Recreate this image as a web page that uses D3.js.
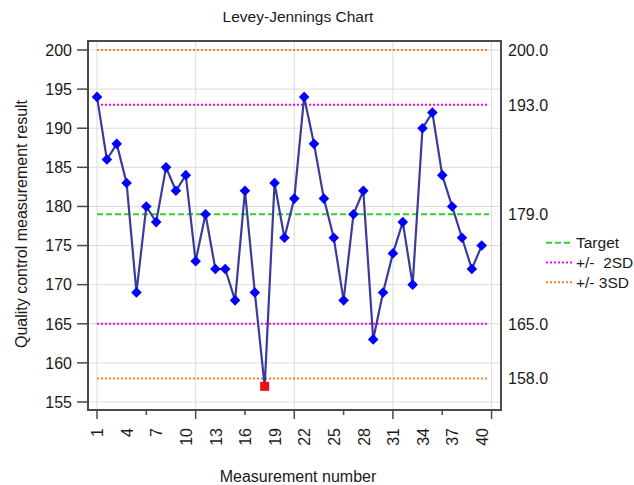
<!DOCTYPE html>
<html>
<head>
<meta charset="utf-8">
<script src="https://cdn.jsdelivr.net/npm/d3@7"></script>
<style>
  html, body { margin: 0; padding: 0; background: #fff; }
  svg text { font-family: "Liberation Sans", Arial, sans-serif; fill: #1a1a1a; }
</style>
</head>
<body>
<svg id="chart" width="634" height="485"></svg>
<script>
// Measurement numbers and quality control results
const runs = d3.range(1, 41);
const results = [194, 186, 188, 183, 169, 180, 178, 185, 182, 184,
                 173, 179, 172, 172, 168, 182, 169, 157, 183, 176,
                 181, 194, 188, 181, 176, 168, 179, 182, 163, 169,
                 174, 178, 170, 190, 192, 184, 180, 176, 172, 175];

// Control limits: target mean, +/- 2SD, +/- 3SD
const target = 179;
const limits2sd = [193, 165];
const limits3sd = [200, 158];

// Axis ticks and labels
const yTicks = [155, 160, 165, 170, 175, 180, 185, 190, 195, 200];
const xLabels = [1, 4, 7, 10, 13, 16, 19, 22, 25, 28, 31, 34, 37, 40];
const xMajorTicks = [1, 11, 21, 31, 41];
const xMinorTicks = [6, 16, 26, 36];
const legendItems = ["Target", "+/-  2SD", "+/- 3SD"];

const svg = d3.select("#chart");
const box = { left: 88, right: 501, top: 41, bottom: 410 };

const x = d3.scaleLinear().domain([1, 40]).range([97, 481.7]);
const y = d3.scaleLinear().domain([155, 200]).range([402, 50]);

// Title
svg.append("text")
  .attr("x", 298).attr("y", 22)
  .attr("text-anchor", "middle")
  .style("font-size", "15.5px")
  .text("Levey-Jennings Chart");

// Grid
const grid = svg.append("g");
grid.selectAll("line.h").data(yTicks).join("line")
  .attr("x1", box.left).attr("x2", box.right)
  .attr("y1", d => y(d)).attr("y2", d => y(d))
  .attr("stroke", "#dcdcdc").attr("stroke-width", 1);
grid.selectAll("line.v").data(xMajorTicks).join("line")
  .attr("y1", box.top).attr("y2", box.bottom)
  .attr("x1", d => x(d)).attr("x2", d => x(d))
  .attr("stroke", "#dcdcdc").attr("stroke-width", 1);

// Control limit lines
const xEnd = x(40.75);
function refLine(v, color, dash) {
  svg.append("line")
    .attr("x1", x(1)).attr("x2", xEnd)
    .attr("y1", y(v)).attr("y2", y(v))
    .attr("stroke", color).attr("stroke-width", 2)
    .attr("stroke-dasharray", dash);
}
limits3sd.forEach(v => refLine(v, "#ff7f27", "2,2"));
limits2sd.forEach(v => refLine(v, "#ff00ff", "2,2"));
refLine(target, "#33cc33", "6,3");

// Right-side limit labels
const limitValues = [limits3sd[0], limits2sd[0], target, limits2sd[1], limits3sd[1]];
svg.selectAll("text.lim").data(limitValues).join("text")
  .attr("x", 508).attr("y", d => y(d))
  .attr("dy", "0.36em")
  .style("font-size", "16px")
  .text(d => d.toFixed(1));

// Data line
svg.append("path")
  .datum(results)
  .attr("fill", "none")
  .attr("stroke", "#3b3b9b")
  .attr("stroke-width", 2.2)
  .attr("d", d3.line().x((d, i) => x(runs[i])).y(d => y(d)));

// Markers: out of 3SD limits drawn as red squares
const pts = results.map((v, i) => ({ n: runs[i], v }));
const out = d => d.v > limits3sd[0] || d.v < limits3sd[1];
svg.selectAll("path.pt").data(pts.filter(d => !out(d))).join("path")
  .attr("transform", d => `translate(${x(d.n)},${y(d.v)})`)
  .attr("d", d3.symbol().type(d3.symbolDiamond2).size(72))
  .attr("fill", "#0000ff");
svg.selectAll("rect.pt").data(pts.filter(out)).join("rect")
  .attr("x", d => x(d.n) - 4.5).attr("y", d => y(d.v) - 4.5)
  .attr("width", 9).attr("height", 9)
  .attr("fill", "#ee1111");

// Frame
svg.append("rect")
  .attr("x", box.left).attr("y", box.top)
  .attr("width", box.right - box.left).attr("height", box.bottom - box.top)
  .attr("fill", "none").attr("stroke", "#4a4a4a").attr("stroke-width", 2);

// Y axis ticks and labels
svg.selectAll("line.yt").data(yTicks).join("line")
  .attr("x1", 77).attr("x2", box.left)
  .attr("y1", d => y(d)).attr("y2", d => y(d))
  .attr("stroke", "#4a4a4a").attr("stroke-width", 1.5);
svg.selectAll("text.yl").data(yTicks).join("text")
  .attr("x", 72).attr("y", d => y(d))
  .attr("dy", "0.36em").attr("text-anchor", "end")
  .style("font-size", "16px")
  .text(d => d);

// X axis ticks
svg.selectAll("line.xM").data(xMajorTicks).join("line")
  .attr("x1", d => x(d)).attr("x2", d => x(d))
  .attr("y1", box.bottom).attr("y2", 419)
  .attr("stroke", "#4a4a4a").attr("stroke-width", 1.5);
svg.selectAll("line.xm").data(xMinorTicks).join("line")
  .attr("x1", d => x(d)).attr("x2", d => x(d))
  .attr("y1", box.bottom).attr("y2", 415)
  .attr("stroke", "#4a4a4a").attr("stroke-width", 1.5);

// X tick labels (vertical)
svg.selectAll("text.xl").data(xLabels).join("text")
  .attr("transform", d => `translate(${x(d) + 0.5},428) rotate(-90)`)
  .attr("text-anchor", "end").attr("dy", "0.36em")
  .style("font-size", "16px")
  .text(d => d);

// Axis titles
svg.append("text")
  .attr("x", 298).attr("y", 482)
  .attr("text-anchor", "middle")
  .style("font-size", "16px")
  .text("Measurement number");
svg.append("text")
  .attr("transform", "translate(27,224) rotate(-90)")
  .attr("text-anchor", "middle")
  .style("font-size", "16px")
  .text("Quality control measurement result");

// Legend
const legColors = ["#33cc33", "#ff00ff", "#ff7f27"];
const legDash = ["6,3", "2,2", "2,2"];
const leg = svg.append("g");
legendItems.forEach((label, i) => {
  const ly = 242.7 + i * 19.8;
  leg.append("line")
    .attr("x1", 546).attr("x2", 573)
    .attr("y1", ly).attr("y2", ly)
    .attr("stroke", legColors[i]).attr("stroke-width", 2)
    .attr("stroke-dasharray", legDash[i]);
  leg.append("text")
    .attr("x", 576).attr("y", ly)
    .attr("dy", "0.36em")
    .style("font-size", "15.5px")
    .style("white-space", "pre")
    .attr("xml:space", "preserve")
    .text(label);
});
</script>
</body>
</html>
